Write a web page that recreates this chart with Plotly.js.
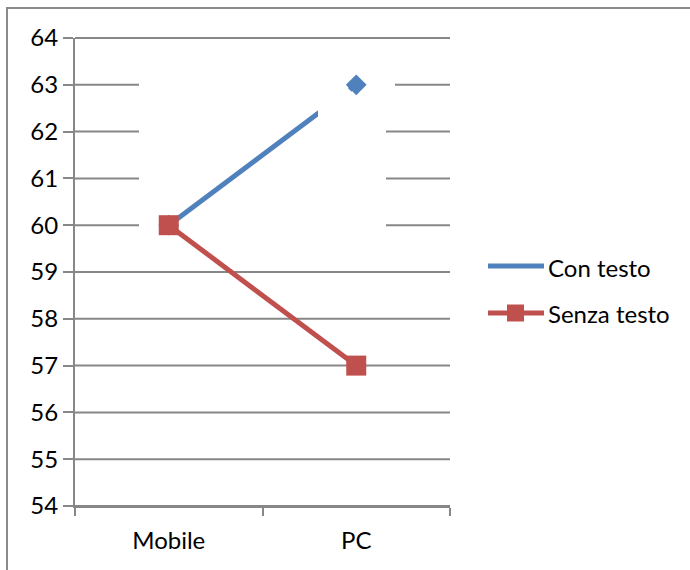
<!DOCTYPE html>
<html>
<head>
<meta charset="utf-8">
<script src="https://cdn.plot.ly/plotly-3.0.1.min.js"></script>
<style>
  html, body { margin: 0; padding: 0; background: #fff; overflow: hidden; }
  #wrap { position: relative; width: 690px; height: 570px; }
  #chart { width: 690px; height: 570px; }
  #frame { position: absolute; left: 6px; top: 7px; width: 720px; height: 600px;
           border-left: 2px solid #8a8a8a; border-top: 2px solid #8a8a8a; pointer-events: none; }
</style>
</head>
<body>
<div id="wrap"><div id="chart"></div><div id="frame"></div></div>
<script>
// ---- data ----
const categories = ["Mobile", "PC"];
const seriesNames = ["Con testo", "Senza testo"];
const conTesto = [60, 63];
const senzaTesto = [60, 57];
const yTicks = [54, 55, 56, 57, 58, 59, 60, 61, 62, 63, 64];

// ---- styling ----
const BLUE = "#4F81BD", RED = "#C0504D", GRID = "#878787";
const FONT = "Lato, 'Liberation Sans', sans-serif";
const L = 75, R = 450, T = 38, B = 506, W = 690, H = 570;
const YMIN = 54, YMAX = 64;
const px = x => (x - L) / (R - L);   // pixel -> paper x
const py = y => (B - y) / (B - T);   // pixel -> paper y

const traces = [
  { x: categories, y: conTesto, name: seriesNames[0], type: "scatter", mode: "lines+markers",
    line: { color: BLUE, width: 5 }, marker: { symbol: "diamond", size: 16, color: BLUE },
    showlegend: false, cliponaxis: false },
  { x: categories, y: senzaTesto, name: seriesNames[1], type: "scatter", mode: "lines+markers",
    line: { color: RED, width: 5 }, marker: { symbol: "square", size: 20, color: RED },
    showlegend: false, cliponaxis: false }
];

// gridlines drawn as shapes (below traces) so the white masks can cover them
const gridShapes = yTicks.map(v => ({
  type: "line", xref: "paper", yref: "paper", layer: "below",
  x0: 0, x1: 1, y0: (v - YMIN) / (YMAX - YMIN), y1: (v - YMIN) / (YMAX - YMIN),
  line: { color: GRID, width: 2 }
}));

const shapes = gridShapes.concat([
  // white masks (as in the original picture)
  { type: "rect", xref: "paper", yref: "paper", layer: "below",
    x0: px(139), x1: px(386), y0: py(250), y1: py(55), fillcolor: "#fff", line: { width: 0 } },
  { type: "rect", xref: "paper", yref: "paper", layer: "below",
    x0: px(385), x1: px(395), y0: py(95), y1: py(70), fillcolor: "#fff", line: { width: 0 } },
  { type: "path", xref: "paper", yref: "paper", layer: "above", fillcolor: "#fff", line: { width: 0 },
    path: `M ${px(318)},${py(126)} L ${px(318)},${py(80)} L ${px(344.5)},${py(80)} L ${px(345.5)},${py(85.5)} L ${px(355)},${py(95.5)} L ${px(355)},${py(126)} Z` },
  // custom legend
  { type: "line", xref: "paper", yref: "paper", x0: px(488), x1: px(544), y0: py(266), y1: py(266),
    line: { color: BLUE, width: 5 } },
  { type: "line", xref: "paper", yref: "paper", x0: px(488), x1: px(544), y0: py(313), y1: py(313),
    line: { color: RED, width: 5 } },
  { type: "rect", xref: "paper", yref: "paper", x0: px(507), x1: px(524), y0: py(321.5), y1: py(304.5),
    fillcolor: RED, line: { width: 0 } }
]);

const annotations = [
  { text: seriesNames[0], xref: "paper", yref: "paper", x: px(546), y: py(267), xanchor: "left", yanchor: "middle",
    showarrow: false, font: { family: FONT, size: 24, color: "#000" } },
  { text: seriesNames[1], xref: "paper", yref: "paper", x: px(546), y: py(313), xanchor: "left", yanchor: "middle",
    showarrow: false, font: { family: FONT, size: 24, color: "#000" } }
];

const layout = {
  width: W, height: H,
  margin: { l: L, r: W - R, t: T, b: H - B, pad: 0 },
  paper_bgcolor: "#fff", plot_bgcolor: "rgba(0,0,0,0)",
  showlegend: false, hovermode: false,
  font: { family: FONT, size: 24, color: "#000" },
  xaxis: {
    type: "category", range: [-0.5, 1.5], showgrid: false, zeroline: false,
    showline: true, linecolor: GRID, linewidth: 2,
    ticks: "outside", tickson: "boundaries", ticklen: 8, tickwidth: 2, tickcolor: GRID,
    ticklabelstandoff: 12, fixedrange: true
  },
  yaxis: {
    range: [YMIN, YMAX], tickvals: yTicks, ticktext: yTicks.map(String),
    showgrid: false, zeroline: false,
    showline: true, linecolor: GRID, linewidth: 2,
    ticks: "outside", ticklen: 10, tickwidth: 2, tickcolor: GRID,
    ticklabelstandoff: 0, fixedrange: true
  },
  shapes: shapes,
  annotations: annotations
};

Plotly.newPlot("chart", traces, layout, { displayModeBar: false, staticPlot: true });
</script>
</body>
</html>
